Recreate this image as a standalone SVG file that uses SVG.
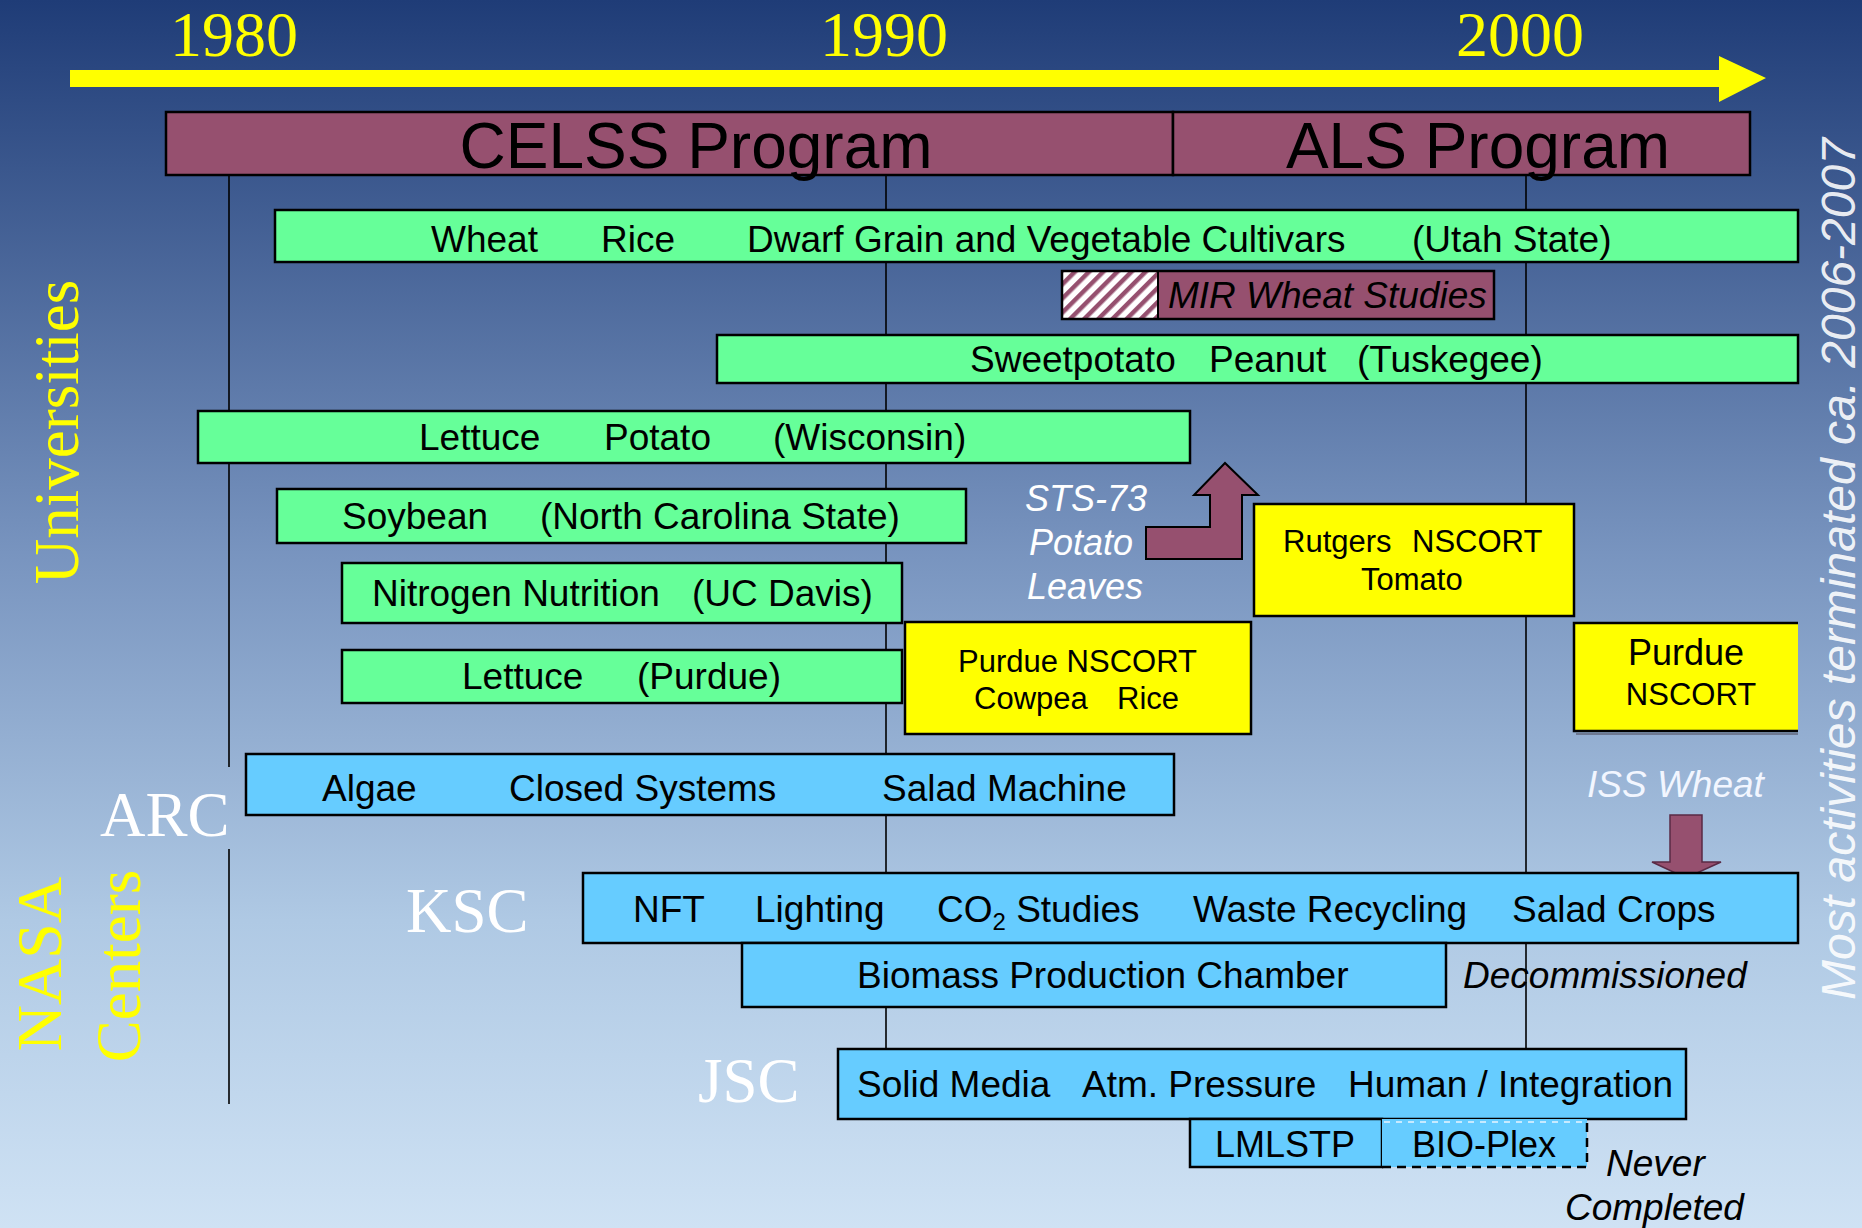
<svg xmlns="http://www.w3.org/2000/svg" width="1862" height="1228" viewBox="0 0 1862 1228">
<defs>
<linearGradient id="bg" x1="0" y1="0" x2="0" y2="1">
<stop offset="0" stop-color="#1F3C77"/>
<stop offset="0.45" stop-color="#7894BF"/>
<stop offset="0.75" stop-color="#AFC9E4"/>
<stop offset="1" stop-color="#CFE2F4"/>
</linearGradient>
<pattern id="hatch" patternUnits="userSpaceOnUse" width="10" height="10" patternTransform="rotate(45)">
<rect width="10" height="10" fill="#FFFFFF"/>
<rect width="4.5" height="10" fill="#96506F"/>
</pattern>
<style>
.box{stroke:#000;stroke-width:2.5}
.g{fill:#66FF99}
.b{fill:#66CCFF}
.y{fill:#FFFF00}
.m{fill:#96506F}
.t{font-family:"Liberation Sans",Arial,sans-serif;font-size:37px;fill:#000}
.ty{font-family:"Liberation Sans",Arial,sans-serif;font-size:31px;fill:#000}
.it{font-family:"Liberation Sans",Arial,sans-serif;font-style:italic;font-size:37px}
.yr{font-family:"Liberation Serif","Times New Roman",serif;font-size:64px;fill:#FFFF00;text-anchor:middle}
.ctr{font-family:"Liberation Serif","Times New Roman",serif;font-size:63px;fill:#FFFFFF}
.grp{font-family:"Liberation Serif","Times New Roman",serif;font-size:63px;fill:#FFFF00;text-anchor:middle}
.grid{stroke:#000;stroke-width:1.6;fill:none}
</style>
</defs>
<rect x="0" y="0" width="1862" height="1228" fill="url(#bg)"/>

<g id="connectors">
<line class="grid" x1="229" y1="175" x2="229" y2="767"/>
<line class="grid" x1="229" y1="849" x2="229" y2="1104"/>
<line class="grid" x1="886" y1="175" x2="886" y2="1049"/>
<line class="grid" x1="1526" y1="175" x2="1526" y2="1049"/>
<polygon id="sts-arrow" points="1146,527 1210,527 1210,495 1194,495 1225,463 1258,495 1242,495 1242,559 1146,559" fill="#96506F" stroke="#000" stroke-width="2"/>
<polygon id="iss-arrow" points="1670,815 1702,815 1702,862 1721,862 1686,878 1652,862 1670,862" fill="#96506F" stroke="#5A2A45" stroke-width="1.5"/>
</g>

<g id="timeline">
<polygon points="70,70 1719,70 1719,56 1766,78 1719,102 1719,87 70,87" fill="#FFFF00"/>
<text class="yr" x="234" y="56">1980</text>
<text class="yr" x="884" y="56">1990</text>
<text class="yr" x="1520" y="56">2000</text>
</g>

<g id="celss">
<rect class="box m" x="166" y="112" width="1007" height="63"/>
<text class="t" style="font-size:64px" x="696" y="168" text-anchor="middle">CELSS Program</text>
</g>
<g id="als">
<rect class="box m" x="1173" y="112" width="577" height="63"/>
<text class="t" style="font-size:64px" x="1478" y="168" text-anchor="middle">ALS Program</text>
</g>

<g id="utah">
<rect class="box g" x="275" y="210" width="1523" height="52"/>
<text class="t" y="252"><tspan x="431">Wheat</tspan><tspan x="601">Rice</tspan><tspan x="747">Dwarf Grain and Vegetable Cultivars</tspan><tspan x="1412">(Utah State)</tspan></text>
</g>

<g id="mir">
<rect x="1062" y="271" width="96" height="48" fill="url(#hatch)"/>
<rect class="m" x="1158" y="271" width="336" height="48"/>
<rect x="1062" y="271" width="432" height="48" fill="none" stroke="#000" stroke-width="2.5"/>
<line x1="1158" y1="271" x2="1158" y2="319" stroke="#000" stroke-width="2"/>
<text class="it" style="font-size:37px" x="1168" y="308" fill="#000">MIR Wheat Studies</text>
</g>

<g id="tuskegee">
<rect class="box g" x="717" y="335" width="1081" height="48"/>
<text class="t" y="372"><tspan x="970">Sweetpotato</tspan><tspan x="1209">Peanut</tspan><tspan x="1357">(Tuskegee)</tspan></text>
</g>

<g id="wisconsin">
<rect class="box g" x="198" y="411" width="992" height="52"/>
<text class="t" y="450"><tspan x="419">Lettuce</tspan><tspan x="604">Potato</tspan><tspan x="773">(Wisconsin)</tspan></text>
</g>

<g id="ncstate">
<rect class="box g" x="277" y="489" width="689" height="54"/>
<text class="t" y="529"><tspan x="342">Soybean</tspan><tspan x="540">(North Carolina State)</tspan></text>
</g>

<g id="ucdavis">
<rect class="box g" x="342" y="563" width="560" height="60"/>
<text class="t" y="606"><tspan x="372">Nitrogen Nutrition</tspan><tspan x="692">(UC Davis)</tspan></text>
</g>

<g id="purdue-lettuce">
<rect class="box g" x="342" y="650" width="560" height="53"/>
<text class="t" y="689"><tspan x="462">Lettuce</tspan><tspan x="637">(Purdue)</tspan></text>
</g>

<g id="purdue-nscort-1">
<rect class="box y" x="905" y="622" width="346" height="112"/>
<text class="ty" x="958" y="672">Purdue NSCORT</text>
<text class="ty" y="709"><tspan x="974">Cowpea</tspan><tspan x="1117">Rice</tspan></text>
</g>

<g id="rutgers">
<rect class="box y" x="1254" y="504" width="320" height="112"/>
<text class="ty" y="552"><tspan x="1283">Rutgers</tspan><tspan x="1412">NSCORT</tspan></text>
<text class="ty" x="1361" y="590">Tomato</text>
</g>

<g id="purdue-nscort-2">
<rect x="1574" y="623" width="224" height="108" fill="#FFFF00"/>
<path d="M1798,623 H1574 V731 H1798" fill="none" stroke="#000" stroke-width="2.5"/>
<line x1="1576" y1="734" x2="1798" y2="734" stroke="#556" stroke-width="2" opacity="0.6"/>
<text class="t" style="font-size:36px" x="1686" y="665" text-anchor="middle">Purdue</text>
<text class="ty" x="1691" y="705" text-anchor="middle">NSCORT</text>
</g>

<g id="sts73-label">
<text class="it" style="font-size:36px" fill="#FFFFFF"><tspan x="1025" y="511">STS-73</tspan><tspan x="1029" y="555">Potato</tspan><tspan x="1027" y="599">Leaves</tspan></text>
</g>

<g id="arc">
<text class="ctr" x="100" y="836">ARC</text>
<rect class="box b" x="246" y="754" width="928" height="61"/>
<text class="t" y="801"><tspan x="322">Algae</tspan><tspan x="509">Closed Systems</tspan><tspan x="882">Salad Machine</tspan></text>
</g>

<g id="iss-label">
<text class="it" style="font-size:37px" x="1587" y="797" fill="#F2F6FF">ISS Wheat</text>
</g>

<g id="ksc">
<text class="ctr" x="406" y="932">KSC</text>
<rect class="box b" x="583" y="873" width="1215" height="70"/>
<text class="t" y="922"><tspan x="633">NFT</tspan><tspan x="755">Lighting</tspan><tspan x="937">CO</tspan><tspan dy="8" style="font-size:24px">2</tspan><tspan dy="-8"> Studies</tspan><tspan x="1193">Waste Recycling</tspan><tspan x="1512">Salad Crops</tspan></text>
</g>

<g id="bpc">
<rect class="box b" x="742" y="943" width="704" height="64"/>
<text class="t" x="857" y="988">Biomass Production Chamber</text>
<text class="it" x="1463" y="988" fill="#000">Decommissioned</text>
</g>

<g id="jsc">
<text class="ctr" x="698" y="1102">JSC</text>
<rect class="box b" x="838" y="1049" width="848" height="70"/>
<text class="t" y="1097"><tspan x="857">Solid Media</tspan><tspan x="1082">Atm. Pressure</tspan><tspan x="1348">Human / Integration</tspan></text>
</g>

<g id="lmlstp">
<rect class="box b" x="1190" y="1119" width="192" height="48"/>
<text class="t" style="font-size:36px" x="1215" y="1157">LMLSTP</text>
</g>

<g id="bioplex">
<rect class="b" x="1382" y="1119" width="205" height="48"/>
<path d="M1382,1167 H1587 V1119" fill="none" stroke="#000" stroke-width="2.5" stroke-dasharray="9,6"/>
<path d="M1384,1122 H1587" fill="none" stroke="#E8F4FF" stroke-width="1.5" stroke-dasharray="6,6"/>
<text class="t" style="font-size:36px" x="1412" y="1157">BIO-Plex</text>
<text class="it" fill="#000" x="1606" y="1176">Never</text>
<text class="it" fill="#000" x="1565" y="1220">Completed</text>
</g>

<g id="group-labels">
<text class="grp" transform="translate(78,432) rotate(-90)">Universities</text>
<text class="grp" style="font-size:64px" transform="translate(61,964) rotate(-90)">NASA</text>
<text class="grp" transform="translate(140,966) rotate(-90)">Centers</text>
<text class="it" style="font-size:48px;text-anchor:middle" fill="#FFFFFF" fill-opacity="0.9" transform="translate(1855,569) rotate(-90)">Most activities terminated ca. 2006-2007</text>
</g>
</svg>
